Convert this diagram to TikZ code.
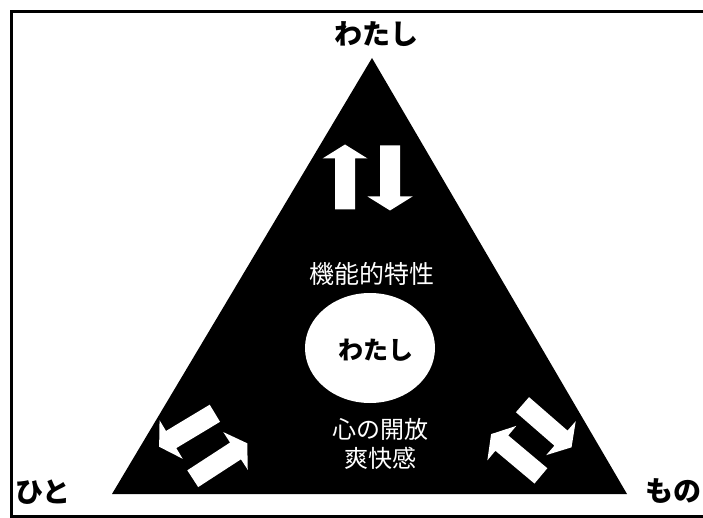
\documentclass[tikz,border=0pt]{standalone}
\usepackage{fontspec}
\usetikzlibrary{shapes.geometric}
\newfontfamily\jp{Noto Sans CJK JP}
\begin{document}
\begin{tikzpicture}[x=1pt,y=-1pt,
  fatarrow/.pic={\fill[white] (-32.5,-10) -- (18.5,-10) -- (18.5,-22.5) -- (32.5,0) -- (18.5,22.5) -- (18.5,10) -- (-32.5,10) -- cycle;},
  corner/.style={font=\jp\bfseries\fontsize{28}{28}\selectfont, text=black, inner sep=0pt},
  wlabel/.style={font=\jp\fontsize{24}{29}\selectfont, text=white, inner sep=0pt, align=center}]
\useasboundingbox (0,0) rectangle (703,518);
\fill[white] (0,0) rectangle (703,518);
% frame
\draw[line width=3pt] (703,12) -- (11,12) -- (11,516) -- (703,516);
% triangle
\coordinate (apex) at (372,58);
\coordinate (bl) at (112,494);
\coordinate (br) at (627,494);
\fill[black] (apex) -- (bl) -- (br) -- cycle;
% corner labels
\node[corner] (top) at (376,34) {わたし};
\node[corner] (hito) at (43,492) {ひと};
\node[corner] (mono) at (673,491) {もの};
% center
\node[wlabel, font=\jp\fontsize{25}{25}\selectfont] (kino) at (372,274) {機能的特性};
\node[draw=none, fill=white, ellipse, minimum width=130pt, minimum height=110pt, inner sep=0pt] (circ) at (370,348) {};
\node[font=\jp\bfseries\fontsize{25}{25}\selectfont, inner sep=0pt] (me) at (376,350) {わたし};
\node[wlabel] (kokoro) at (380,444) {心の開放\\爽快感};
% arrows
\pic[rotate=90] at (345,177) {fatarrow};
\pic[rotate=-90] at (390,178) {fatarrow};
\pic[rotate=211] at (187,430) {fatarrow};
\pic[rotate=33] at (220,461) {fatarrow};
\pic[rotate=-41] at (547,426) {fatarrow};
\pic[rotate=140] at (516,455) {fatarrow};
\end{tikzpicture}
\end{document}
